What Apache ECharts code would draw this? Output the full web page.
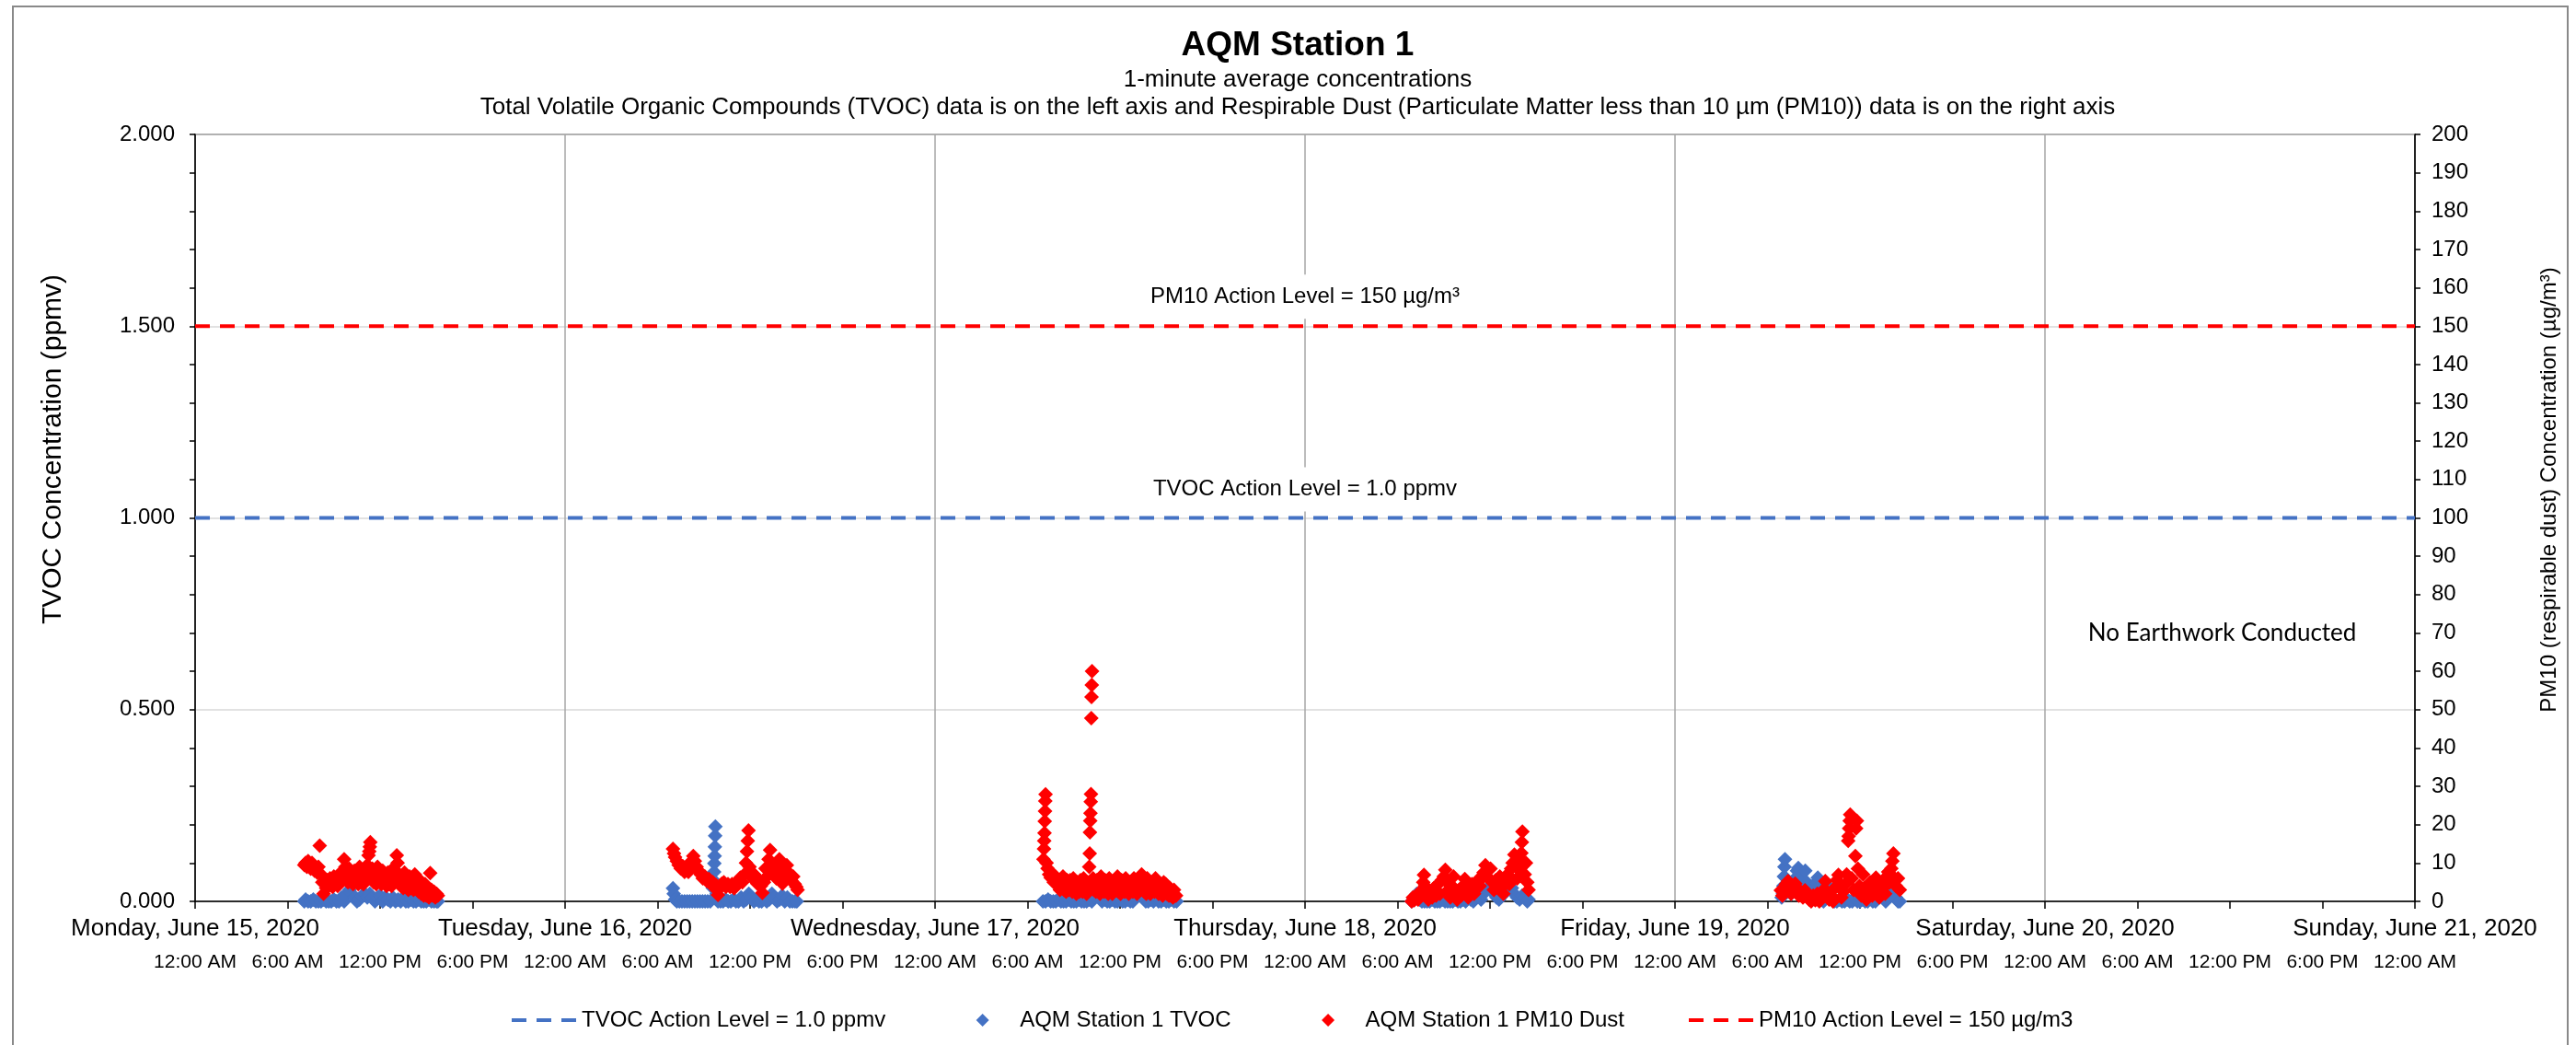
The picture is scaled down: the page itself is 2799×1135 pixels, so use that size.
<!DOCTYPE html>
<html>
<head>
<meta charset="utf-8">
<title>AQM Station 1</title>
<script src="https://cdn.jsdelivr.net/npm/echarts@6/dist/echarts.min.js"></script>
<style>
  html, body { margin: 0; padding: 0; background: #fff; }
  #main { width: 2799px; height: 1135px; }
</style>
</head>
<body>
<div id="main"></div>
<script>
// ---------- tick labels ----------
const dayLabels = ['Monday, June 15, 2020', 'Tuesday, June 16, 2020', 'Wednesday, June 17, 2020',
  'Thursday, June 18, 2020', 'Friday, June 19, 2020', 'Saturday, June 20, 2020', 'Sunday, June 21, 2020'];
const timeLabels = ['12:00 AM', '6:00 AM', '12:00 PM', '6:00 PM'];

// ---------- action levels ----------
const tvocActionLevel = 1.0;   // ppmv (left axis)
const pm10ActionLevel = 150;   // ug/m3 (right axis)

// ---------- TVOC (ppmv), [time, value] ----------
const tvoc_jun15 = [["07:05",0],["07:10",0.005],["07:20",0],["07:30",0],["07:40",0.005],["07:50",0],["08:00",0],["08:10",0],["08:20",0.005],["08:30",0],["08:40",0],["08:50",0],["09:00",0.005],["09:10",0],["09:20",0],["09:30",0.01],["09:40",0],["09:50",0.02],["10:00",0.03],["10:10",0.02],["10:20",0.01],["10:30",0],["10:40",0.005],["10:50",0.015],["11:00",0.02],["11:10",0.01],["11:20",0.02],["11:30",0.01],["11:40",0],["11:50",0.01],["12:00",0.015],["12:10",0],["12:20",0.01],["12:30",0.005],["12:40",0],["12:50",0.01],["13:00",0],["13:10",0.005],["13:20",0],["13:30",0.01],["13:40",0],["13:50",0],["14:00",0.005],["14:10",0],["14:20",0],["14:30",0.005],["14:40",0],["14:50",0],["15:00",0],["15:10",0.005],["15:20",0],["15:30",0],["15:40",0],["15:45",0]];
const tvoc_jun16 = [["07:00",0.034],["07:03",0.02],["07:08",0.005],["07:15",0],["07:25",0],["07:35",0],["07:45",0],["07:55",0],["08:05",0],["08:15",0],["08:25",0],["08:35",0],["08:45",0],["08:55",0],["09:05",0],["09:15",0],["09:25",0],["09:35",0.035],["09:38",0.055],["09:40",0.077],["09:41",0.099],["09:42",0.118],["09:43",0.142],["09:44",0.171],["09:45",0.195],["09:50",0.02],["09:55",0],["10:05",0],["10:15",0],["10:25",0.005],["10:35",0],["10:45",0],["10:55",0.005],["11:05",0],["11:15",0],["11:25",0.01],["11:35",0],["11:45",0.005],["11:55",0.02],["12:05",0.01],["12:15",0],["12:25",0.005],["12:35",0],["12:45",0],["12:55",0.01],["13:05",0],["13:15",0.005],["13:25",0.02],["13:35",0.01],["13:45",0],["13:55",0.005],["14:05",0.015],["14:15",0],["14:25",0.01],["14:35",0],["14:45",0],["14:55",0],["15:02",0]];
const tvoc_jun17 = [["07:00",0],["07:10",0],["07:20",0.005],["07:30",0],["07:40",0],["07:50",0],["08:00",0.005],["08:10",0],["08:20",0],["08:30",0],["08:40",0.005],["08:50",0],["09:00",0],["09:10",0],["09:20",0.005],["09:30",0],["09:40",0],["09:50",0],["10:00",0.005],["10:10",0],["10:20",0.01],["10:30",0.02],["10:40",0.01],["10:50",0],["11:00",0.005],["11:10",0],["11:20",0],["11:30",0.005],["11:40",0],["11:50",0],["12:00",0.01],["12:10",0],["12:20",0],["12:30",0.005],["12:40",0],["12:50",0],["13:00",0.01],["13:10",0.015],["13:20",0.02],["13:30",0.01],["13:40",0],["13:50",0],["14:00",0.005],["14:10",0],["14:20",0.01],["14:30",0],["14:40",0],["14:50",0.005],["15:00",0],["15:10",0],["15:20",0.005],["15:30",0],["15:40",0]];
const tvoc_jun18 = [["06:55",0],["07:05",0.01],["07:15",0.02],["07:25",0.005],["07:35",0],["07:45",0],["07:55",0],["08:05",0],["08:15",0.005],["08:25",0],["08:35",0],["08:45",0],["08:55",0.005],["09:05",0],["09:15",0],["09:25",0],["09:35",0],["09:45",0.005],["09:55",0],["10:05",0],["10:15",0.005],["10:25",0],["10:35",0.01],["10:45",0.005],["10:55",0],["11:05",0.01],["11:15",0.015],["11:25",0.005],["11:35",0.02],["11:45",0.03],["11:55",0.038],["12:05",0.03],["12:15",0.02],["12:25",0.01],["12:35",0.005],["12:45",0.015],["12:55",0.02],["13:05",0.03],["13:15",0.038],["13:25",0.035],["13:35",0.02],["13:45",0.01],["13:55",0.005],["14:05",0.015],["14:15",0.01],["14:25",0],["14:30",0.005]];
const tvoc_jun19 = [["06:55",0.01],["07:00",0.02],["07:02",0.04],["07:04",0.065],["07:06",0.09],["07:08",0.11],["07:12",0.06],["07:18",0.03],["07:25",0.05],["07:32",0.02],["07:40",0.04],["07:48",0.06],["07:55",0.08],["08:00",0.087],["08:05",0.06],["08:12",0.03],["08:20",0.055],["08:27",0.08],["08:33",0.05],["08:40",0.02],["08:48",0.03],["08:55",0.04],["09:02",0.01],["09:10",0.045],["09:16",0.062],["09:22",0.04],["09:30",0.02],["09:38",0],["09:45",0.02],["09:55",0.04],["10:02",0.03],["10:10",0.01],["10:20",0],["10:30",0],["10:40",0.005],["10:50",0],["11:00",0],["11:10",0.005],["11:20",0],["11:30",0],["11:40",0.01],["11:50",0],["12:00",0],["12:10",0.005],["12:20",0],["12:30",0],["12:40",0.01],["12:50",0],["13:00",0],["13:10",0.01],["13:20",0.02],["13:30",0.01],["13:40",0],["13:50",0.02],["14:00",0.035],["14:06",0.04],["14:12",0.02],["14:20",0.01],["14:28",0],["14:35",0]];

// ---------- PM10 dust (ug/m3), [time, value] ----------
const pm10_jun15 = [["07:05",9.5],["07:10",10],["07:15",9],["07:20",10.5],["07:25",9.5],["07:30",8.5],["07:35",10],["07:40",9],["07:45",8],["07:50",8.5],["07:55",7.5],["08:00",9],["08:05",14.5],["08:10",7],["08:15",5],["08:20",2],["08:25",4.5],["08:30",3.5],["08:35",5.5],["08:40",4],["08:45",6],["08:50",5],["08:55",3.8],["09:00",6.5],["09:05",4.5],["09:10",5.5],["09:15",4],["09:20",7],["09:25",5],["09:30",6],["09:35",8],["09:40",11],["09:45",9],["09:50",7.5],["09:55",5],["10:00",8.5],["10:05",5.5],["10:10",6.5],["10:15",4.5],["10:20",8],["10:25",5.5],["10:30",7],["10:35",4.5],["10:40",9],["10:45",5],["10:50",6],["10:55",4.5],["11:00",8],["11:05",5.5],["11:10",9.5],["11:15",12],["11:18",13],["11:20",14.2],["11:22",15.4],["11:25",6],["11:30",8.5],["11:35",5],["11:40",7],["11:45",4.5],["11:50",9],["11:55",5.5],["12:00",6.5],["12:05",4.5],["12:10",8],["12:15",5],["12:20",5.5],["12:25",4],["12:30",7.5],["12:35",4.5],["12:40",6],["12:45",4],["12:50",8.5],["12:55",5],["13:00",7],["13:05",12],["13:08",10],["13:15",7],["13:20",4],["13:25",5],["13:30",3.5],["13:35",7.5],["13:40",4],["13:45",4.5],["13:50",3],["13:55",6.5],["14:00",3.5],["14:05",5],["14:10",3],["14:15",7],["14:20",3.5],["14:25",4],["14:30",2.5],["14:35",5.5],["14:40",2],["14:45",3],["14:50",1.5],["14:55",4.5],["15:00",1.5],["15:05",2.5],["15:10",1],["15:15",7.4],["15:20",3],["15:25",1.5],["15:30",2.5],["15:35",1],["15:40",2],["15:45",1.5]];
const pm10_jun16 = [["07:00",13.7],["07:04",12.5],["07:08",11.5],["07:15",10.5],["07:22",9.5],["07:30",8.6],["07:38",9.2],["07:45",7.7],["07:52",8.2],["08:00",7.7],["08:06",9.5],["08:12",10.5],["08:19",11.8],["08:25",10.5],["08:32",9],["08:40",8],["08:48",7],["08:56",6],["09:04",6.5],["09:12",5.3],["09:20",5.8],["09:28",4.6],["09:35",5],["09:42",3.5],["09:48",4.2],["09:55",1.7],["10:02",3.5],["10:10",4.6],["10:18",5],["10:26",3.8],["10:34",4.5],["10:42",3.8],["10:50",4.5],["10:58",3.4],["11:06",4.2],["11:14",5.3],["11:22",6.2],["11:30",5],["11:38",7],["11:44",10],["11:48",13],["11:51",15.8],["11:54",18.5],["11:58",9],["12:04",7.7],["12:10",6],["12:16",7],["12:22",5.5],["12:28",4.6],["12:35",5.5],["12:42",4],["12:48",2.2],["12:54",5],["13:00",8.6],["13:06",6.5],["13:12",11],["13:18",13.4],["13:24",9.5],["13:30",7],["13:36",8.6],["13:42",6],["13:48",9],["13:54",11],["14:00",8],["14:06",4.6],["14:12",6.5],["14:18",8],["14:23",9.4],["14:30",7.5],["14:36",6],["14:42",5.3],["14:48",6.5],["14:54",4.5],["15:00",3.8],["15:05",3]];
const pm10_jun17 = [["07:02",11],["07:04",13.7],["07:05",15.8],["07:06",17.8],["07:07",20.9],["07:08",23.5],["07:09",26.2],["07:10",27.9],["07:14",10],["07:18",8.6],["07:24",7],["07:30",6.2],["07:36",7.3],["07:42",5],["07:48",6.5],["07:55",4.5],["08:02",5.5],["08:06",3],["08:10",3.5],["08:14",5],["08:18",6.5],["08:22",3],["08:26",4.2],["08:30",2.5],["08:34",5.5],["08:38",4],["08:42",3],["08:46",5.5],["08:50",4.8],["08:54",2.5],["08:58",6],["09:02",4],["09:06",3.5],["09:10",2],["09:14",5],["09:18",3.5],["09:22",2.5],["09:26",5.5],["09:30",4.5],["09:34",2.5],["09:38",6],["09:42",4],["09:46",3.5],["09:50",2],["09:54",5],["10:00",9],["10:02",12.5],["10:03",18],["10:04",21],["10:05",23],["10:06",26],["10:07",28],["10:08",47.8],["10:09",53.3],["10:10",56.4],["10:11",60],["10:15",6],["10:18",3],["10:22",4],["10:26",2.5],["10:30",5.5],["10:34",4],["10:38",3],["10:42",2],["10:46",6.5],["10:50",3.5],["10:54",4.5],["10:58",2.5],["11:02",5.5],["11:06",3],["11:10",3.5],["11:14",2],["11:18",6],["11:22",3.5],["11:26",4],["11:30",2],["11:34",2.5],["11:38",4],["11:42",5],["11:46",3],["11:50",6.5],["11:54",2.5],["11:58",3.5],["12:02",2],["12:06",5.5],["12:10",3],["12:14",4],["12:18",2.5],["12:22",6],["12:26",3.5],["12:30",3],["12:34",2],["12:38",5],["12:42",3],["12:46",4],["12:50",2.5],["12:54",6],["12:58",3],["13:02",3.5],["13:06",2],["13:10",5.5],["13:14",3],["13:18",4.5],["13:24",7],["13:27",4],["13:30",5.5],["13:34",2.5],["13:38",3.5],["13:42",2],["13:46",6],["13:50",3],["13:54",4],["13:58",2],["14:02",2.5],["14:06",4],["14:10",5],["14:14",2.5],["14:18",6],["14:22",3],["14:26",3.5],["14:30",2],["14:34",4.5],["14:38",2.5],["14:42",3],["14:46",1.5],["14:50",5],["14:54",2.5],["14:58",4.5],["15:02",2],["15:06",2.5],["15:10",1.5],["15:14",3.5],["15:18",1.5],["15:22",2],["15:26",1],["15:30",3],["15:34",1.5],["15:38",1.5]];
const pm10_jun18 = [["06:55",0],["07:00",1],["07:05",0.3],["07:12",1.5],["07:20",0.5],["07:28",2],["07:35",3],["07:40",5],["07:43",6.9],["07:47",4],["07:52",1.5],["08:00",0.5],["08:08",2.5],["08:15",1],["08:22",3.5],["08:30",1.5],["08:38",4.5],["08:45",2],["08:52",5.5],["09:00",6.5],["09:06",8.2],["09:12",5],["09:18",3],["09:25",1],["09:32",4],["09:38",6.5],["09:45",2.5],["09:52",0.5],["10:00",3],["10:08",1.5],["10:15",4],["10:22",5.8],["10:28",3],["10:35",1],["10:42",2.5],["10:50",4.5],["10:58",2],["11:05",3.5],["11:12",5.5],["11:20",4],["11:28",6],["11:35",7.5],["11:42",9.4],["11:50",8],["11:56",6],["12:02",8.5],["12:08",5],["12:15",3],["12:22",5.5],["12:30",4],["12:38",6.5],["12:45",3.5],["12:52",2],["13:00",5.3],["13:08",7],["13:15",4.5],["13:22",8.5],["13:28",10],["13:35",12.2],["13:40",9],["13:46",6],["13:52",8.5],["13:58",11],["14:02",12.6],["14:04",15.4],["14:06",18.2],["14:10",9.4],["14:15",7],["14:20",10],["14:25",5],["14:30",3]];
const pm10_jun19 = [["06:52",2.9],["06:58",1.5],["07:05",3.5],["07:12",4.5],["07:20",5.3],["07:26",3.5],["07:32",2],["07:40",4],["07:48",4.6],["07:55",3],["08:02",1.5],["08:10",2.5],["08:18",1],["08:26",2.9],["08:34",1.5],["08:42",0.5],["08:50",0],["08:58",1.5],["09:06",0.3],["09:14",2],["09:22",0],["09:30",1],["09:38",3],["09:45",5.3],["09:52",2.5],["10:00",0.5],["10:08",1.5],["10:15",0],["10:22",3.5],["10:30",5.5],["10:36",6.9],["10:42",4],["10:48",1],["10:55",2.5],["11:02",4.5],["11:08",7],["11:14",15.8],["11:16",17],["11:18",19],["11:20",21],["11:22",22.6],["11:28",6],["11:35",3],["11:42",11.8],["11:45",19],["11:48",21],["11:52",8.5],["11:58",4],["12:05",1.5],["12:12",7],["12:18",3.5],["12:25",0.5],["12:32",2.5],["12:40",5],["12:48",1.5],["12:55",3.5],["13:02",6.2],["13:08",4],["13:15",1],["13:22",3],["13:30",5.5],["13:38",2],["13:45",4.5],["13:50",7.7],["13:56",5],["14:02",8.6],["14:06",10.5],["14:10",12.5],["14:15",6],["14:20",4],["14:28",6],["14:35",3]];

// ---------- helpers ----------
const DAY = 86400000, SIXH = 21600000;
const START = Date.UTC(2020, 5, 15), END = Date.UTC(2020, 5, 21);
function toPts(day, arr) {
  return arr.map(function (p) {
    const hm = p[0].split(':').map(Number);
    return [Date.UTC(2020, 5, day, hm[0], hm[1]), p[1]];
  });
}
const tvocData = [].concat(toPts(15, tvoc_jun15), toPts(16, tvoc_jun16), toPts(17, tvoc_jun17), toPts(18, tvoc_jun18), toPts(19, tvoc_jun19));
const pm10Data = [].concat(toPts(15, pm10_jun15), toPts(16, pm10_jun16), toPts(17, pm10_jun17), toPts(18, pm10_jun18), toPts(19, pm10_jun19));

const FONT = "'Liberation Sans', Arial, sans-serif";
const BLUE = '#4472C4', RED = '#FF0000';
// legend icons: dashed line, and a diamond centred in the same 71-wide box
const DASH_ICON = 'path://M0,5L16,5L16,9L0,9Z M27,5L43,5L43,9L27,9Z M54,5L70,5L70,9L54,9Z M0,0L0,0Z M0,14L0,14Z M71,0L71,0Z';
const DIAMOND_ICON = 'path://M0,0L0,0Z M71,14L71,14Z M35.5,0L42.5,7L35.5,14L28.5,7Z';

const chart = echarts.init(document.getElementById('main'));
const option = {
  animation: false,
  backgroundColor: '#ffffff',
  textStyle: { fontFamily: FONT, color: '#000' },
  grid: { left: 212, right: 175, top: 146, bottom: 156, show: true, borderColor: '#000', borderWidth: 1.5, backgroundColor: 'transparent' },
  legend: {
    left: 551, top: 1091, itemWidth: 71, itemHeight: 14, itemGap: 70, symbolKeepAspect: true,
    textStyle: { fontFamily: FONT, fontSize: 24, color: '#000' },
    data: [
      { name: 'TVOC Action Level = 1.0 ppmv', icon: DASH_ICON },
      { name: 'AQM Station 1 TVOC', icon: DIAMOND_ICON },
      { name: 'AQM Station 1 PM10 Dust', icon: DIAMOND_ICON },
      { name: 'PM10 Action Level = 150 µg/m3', icon: DASH_ICON }
    ]
  },
  xAxis: [{
    type: 'value', min: START, max: END, interval: DAY,
    axisLine: { show: true, lineStyle: { color: '#000', width: 1.5 } },
    axisTick: { show: true, length: 8, lineStyle: { color: '#000', width: 1.5 } },
    minorTick: { show: true, splitNumber: 4, length: 8, lineStyle: { color: '#000', width: 1.5 } },
    splitLine: { show: true, lineStyle: { color: '#A6A6A6', width: 1.5 } },
    axisLabel: {
      margin: 17, fontSize: 26, fontFamily: FONT, color: '#000',
      formatter: function (v) { return dayLabels[Math.round((v - START) / DAY)] || ''; }
    }
  }, {
    type: 'value', min: START, max: END, interval: SIXH, position: 'bottom',
    axisLine: { show: false }, axisTick: { show: false }, splitLine: { show: false },
    axisLabel: {
      margin: 56, fontSize: 21, fontFamily: FONT, color: '#000',
      formatter: function (v) { return timeLabels[Math.round(((v - START) % DAY) / SIXH) % 4]; }
    }
  }],
  yAxis: [{
    type: 'value', min: 0, max: 2, interval: 0.5, position: 'left',
    axisLine: { show: true, lineStyle: { color: '#000', width: 1.5 } },
    axisTick: { show: true, length: 6, lineStyle: { color: '#000', width: 1.5 } },
    minorTick: { show: true, splitNumber: 5, length: 6, lineStyle: { color: '#000', width: 1.5 } },
    splitLine: { show: true, lineStyle: { color: '#D9D9D9', width: 1.5 } },
    axisLabel: { margin: 22, fontSize: 24, fontFamily: FONT, color: '#000', formatter: function (v) { return v.toFixed(3); } }
  }, {
    type: 'value', min: 0, max: 200, interval: 10, position: 'right',
    axisLine: { show: true, lineStyle: { color: '#000', width: 1.5 } },
    axisTick: { show: true, length: 6, lineStyle: { color: '#000', width: 1.5 } },
    splitLine: { show: false },
    axisLabel: { margin: 18, fontSize: 24, fontFamily: FONT, color: '#000' }
  }],
  series: [{
    name: 'TVOC Action Level = 1.0 ppmv', type: 'line', xAxisIndex: 0, yAxisIndex: 0,
    symbol: 'none', silent: true,
    lineStyle: { color: BLUE, width: 4, type: [16, 11] }, itemStyle: { color: BLUE },
    data: [[START, tvocActionLevel], [END, tvocActionLevel]]
  }, {
    name: 'AQM Station 1 TVOC', type: 'scatter', xAxisIndex: 0, yAxisIndex: 0,
    symbol: 'diamond', symbolSize: 16, itemStyle: { color: BLUE, opacity: 1 },
    data: tvocData
  }, {
    name: 'AQM Station 1 PM10 Dust', type: 'scatter', xAxisIndex: 0, yAxisIndex: 1,
    symbol: 'diamond', symbolSize: 16, itemStyle: { color: RED, opacity: 1 },
    data: pm10Data
  }, {
    name: 'PM10 Action Level = 150 µg/m3', type: 'line', xAxisIndex: 0, yAxisIndex: 1,
    symbol: 'none', silent: true,
    lineStyle: { color: RED, width: 4, type: [16, 11] }, itemStyle: { color: RED },
    data: [[START, pm10ActionLevel], [END, pm10ActionLevel]]
  }]
};
chart.setOption(option);

// positions of annotation boxes, taken from the axes
const xThu = chart.convertToPixel({ xAxisIndex: 0 }, Date.UTC(2020, 5, 18));
const xSat = chart.convertToPixel({ xAxisIndex: 0 }, Date.UTC(2020, 5, 20, 11, 30));
const yPm = chart.convertToPixel({ yAxisIndex: 1 }, pm10ActionLevel);
const yTv = chart.convertToPixel({ yAxisIndex: 0 }, tvocActionLevel);
const yNo = chart.convertToPixel({ yAxisIndex: 1 }, 70);

function txt(id, x, y, text, size, extra, rot) {
  return {
    id: id, type: 'text', x: x, y: y, rotation: rot || 0, z: 100,
    style: Object.assign({ text: text, fontFamily: FONT, fontSize: size, fill: '#000', align: 'center', verticalAlign: 'middle' }, extra || {})
  };
}

chart.setOption({
  graphic: [
    { id: 'border', type: 'rect', z: 0, silent: true, shape: { x: 14, y: 7, width: 2776, height: 1140 }, style: { fill: null, stroke: '#898989', lineWidth: 2 } },
    txt('t1', 1410, 50, 'AQM Station 1', 37, { fontWeight: 'bold' }),
    txt('t2', 1410, 87, '1-minute average concentrations', 26),
    txt('t3', 1410, 117, 'Total Volatile Organic Compounds (TVOC) data is on the left axis and Respirable Dust (Particulate Matter less than 10 µm (PM10)) data is on the right axis', 26),
    txt('yl', 58, 488, 'TVOC Concentration (ppmv)', 30, null, Math.PI / 2),
    txt('yr', 2770, 532, 'PM10 (respirable dust) Concentration (µg/m³)', 24, null, Math.PI / 2),
    txt('apm', xThu, yPm - 32, 'PM10 Action Level = 150 µg/m³', 24, { backgroundColor: '#fff', padding: [12, 8] }),
    txt('atv', xThu, yTv - 31, 'TVOC Action Level = 1.0 ppmv', 24, { backgroundColor: '#fff', padding: [12, 8] }),
    txt('noe', xSat, yNo, 'No Earthwork Conducted', 26, { fontFamily: "Lato, 'Open Sans', sans-serif" })
  ]
});
</script>
</body>
</html>
